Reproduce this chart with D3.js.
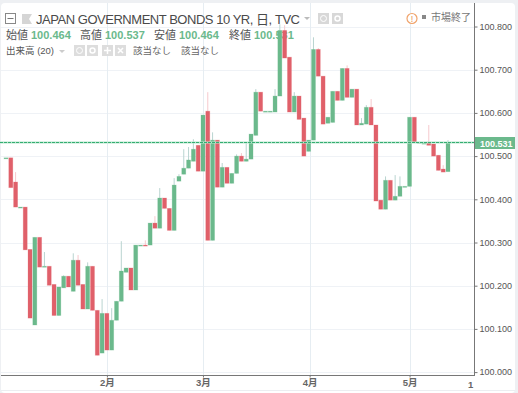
<!DOCTYPE html>
<html>

<head>
    <meta charset="utf-8" />
    <title>JGB 10Y</title>
    <script src="https://d3js.org/d3.v7.min.js"></script>
    <style>
        html,
        body {
            margin: 0;
            padding: 0;
            background-color: #eef0f3;
            overflow: hidden;
        }

        text {
            font-family: 'Liberation Sans', 'Noto Sans CJK JP', sans-serif;
        }
    </style>
</head>

<body>
    <div id="chart"></div>

    <script>
        // candles, one per trading day
        var opens = [100.496, 100.496, 100.440, 100.382, 100.382, 100.284, 100.109, 100.312, 100.245, 100.245,
            100.203, 100.131, 100.195, 100.222, 100.187, 100.259, 100.203, 100.146, 100.245, 100.143,
            100.044, 100.136, 100.051, 100.120, 100.164, 100.231, 100.241, 100.190, 100.294, 100.294,
            100.294, 100.345, 100.333, 100.403, 100.379, 100.328, 100.442, 100.458, 100.472, 100.488,
            100.525, 100.465, 100.604, 100.305, 100.537, 100.428, 100.474, 100.437, 100.460, 100.500,
            100.488, 100.493, 100.548, 100.648, 100.604, 100.604, 100.602, 100.639, 100.791, 100.729,
            100.602, 100.639, 100.588, 100.511, 100.537, 100.747, 100.685, 100.576, 100.578, 100.650,
            100.629, 100.703, 100.636, 100.655, 100.572, 100.574, 100.613, 100.572, 100.398, 100.377,
            100.444, 100.398, 100.407, 100.430, 100.430, 100.590, 100.532, 100.530, 100.532, 100.528,
            100.502, 100.470, 100.464];
        var closes = [100.496, 100.427, 100.382, 100.382, 100.283, 100.125, 100.312, 100.243, 100.245, 100.201,
            100.131, 100.197, 100.222, 100.197, 100.259, 100.201, 100.146, 100.245, 100.143, 100.039,
            100.136, 100.051, 100.120, 100.164, 100.234, 100.241, 100.190, 100.294, 100.294, 100.293,
            100.345, 100.333, 100.403, 100.379, 100.328, 100.433, 100.453, 100.472, 100.491, 100.516,
            100.465, 100.595, 100.305, 100.537, 100.428, 100.474, 100.437, 100.460, 100.500, 100.488,
            100.493, 100.551, 100.648, 100.604, 100.604, 100.604, 100.639, 100.791, 100.727, 100.602,
            100.639, 100.585, 100.500, 100.537, 100.747, 100.685, 100.574, 100.590, 100.650, 100.629,
            100.703, 100.636, 100.655, 100.572, 100.576, 100.613, 100.572, 100.396, 100.377, 100.444,
            100.398, 100.407, 100.430, 100.430, 100.590, 100.532, 100.532, 100.530, 100.525, 100.500,
            100.467, 100.463, 100.531];
        var highs = [100.496, 100.496, 100.463, 100.382, 100.382, 100.284, 100.312, 100.312, 100.278, 100.245,
            100.203, 100.197, 100.224, 100.222, 100.275, 100.271, 100.203, 100.254, 100.245, 100.143,
            100.169, 100.136, 100.148, 100.164, 100.303, 100.241, 100.241, 100.294, 100.294, 100.305,
            100.345, 100.361, 100.426, 100.403, 100.379, 100.449, 100.458, 100.516, 100.521, 100.539,
            100.525, 100.595, 100.648, 100.555, 100.537, 100.484, 100.474, 100.460, 100.504, 100.507,
            100.530, 100.551, 100.655, 100.648, 100.604, 100.604, 100.655, 100.805, 100.803, 100.729,
            100.648, 100.639, 100.588, 100.537, 100.775, 100.750, 100.685, 100.590, 100.650, 100.650,
            100.703, 100.710, 100.655, 100.655, 100.588, 100.618, 100.632, 100.572, 100.398, 100.453,
            100.444, 100.456, 100.453, 100.430, 100.590, 100.590, 100.532, 100.530, 100.572, 100.528,
            100.502, 100.479, 100.537];
        var lows = [100.496, 100.427, 100.382, 100.382, 100.283, 100.125, 100.109, 100.243, 100.245, 100.201,
            100.131, 100.131, 100.195, 100.197, 100.187, 100.201, 100.146, 100.146, 100.143, 100.039,
            100.044, 100.051, 100.051, 100.120, 100.164, 100.231, 100.190, 100.190, 100.294, 100.293,
            100.294, 100.333, 100.333, 100.379, 100.328, 100.328, 100.442, 100.458, 100.472, 100.488,
            100.465, 100.465, 100.305, 100.305, 100.428, 100.428, 100.437, 100.437, 100.460, 100.488,
            100.488, 100.493, 100.548, 100.604, 100.604, 100.604, 100.602, 100.639, 100.727, 100.602,
            100.602, 100.585, 100.500, 100.511, 100.537, 100.685, 100.574, 100.576, 100.578, 100.629,
            100.629, 100.636, 100.636, 100.572, 100.572, 100.574, 100.572, 100.396, 100.377, 100.377,
            100.398, 100.398, 100.407, 100.430, 100.430, 100.532, 100.532, 100.530, 100.525, 100.500,
            100.467, 100.463, 100.464];

        var monthTicks = [21, 41, 63.2, 84];
        var monthLabels = ["2月", "3月", "4月", "5月"];
        var extraTickLabel = "1";
        var priceTicks = [100.000, 100.100, 100.200, 100.300, 100.400, 100.500, 100.600, 100.700, 100.800];
        var lastPrice = 100.531;

        var ohlcLabels = ["始値", "高値", "安値", "終値"];
        var ohlcValues = ["100.464", "100.537", "100.464", "100.531"];

        var width = 518, height = 393;
        var up = "#6bb98c", down = "#e0606a", upWick = "#b9d4d0", downWick = "#f6c9cd";

        var svg = d3.select("#chart")
            .append("svg")
            .attr("width", width)
            .attr("height", height)
            .style("display", "block");

        // white panel
        svg.append("rect")
            .attr("x", 1).attr("y", 3)
            .attr("width", 514).attr("height", 390)
            .attr("rx", 4)
            .attr("fill", "#fff");

        // clips the price labels at the time axis
        svg.append("clipPath").attr("id", "axis-clip").append("rect")
            .attr("x", 470).attr("y", 0).attr("width", 48).attr("height", 375);

        var x = d3.scaleLinear().domain([0, 92]).range([6, 448]);
        var y = d3.scaleLinear().domain([100, 100.8]).range([372.1, 26.5]);

        // grid
        svg.append("g").selectAll("line").data(priceTicks).enter().append("line")
            .attr("x1", 1).attr("x2", 474)
            .attr("y1", function (d) { return Math.round(y(d)) + 0.5; })
            .attr("y2", function (d) { return Math.round(y(d)) + 0.5; })
            .attr("stroke", "#eff2f6");
        svg.append("g").selectAll("line").data(monthTicks).enter().append("line")
            .attr("x1", function (d) { return Math.round(x(d)) + 0.5; })
            .attr("x2", function (d) { return Math.round(x(d)) + 0.5; })
            .attr("y1", 3).attr("y2", 375)
            .attr("stroke", "#e6edf2");
        svg.append("line").attr("x1", 1).attr("x2", 515).attr("y1", 390.5).attr("y2", 390.5).attr("stroke", "#eceef1");

        // header goes under the candles, the tall bars cross the text
        var head = svg.append("g");
        head.append("rect").attr("x", 5.5).attr("y", 13.5).attr("width", 10).attr("height", 10).attr("fill", "#fff").attr("stroke", "#888");
        head.append("line").attr("x1", 7.5).attr("x2", 13.5).attr("y1", 18.5).attr("y2", 18.5).attr("stroke", "#777");
        head.append("path").attr("d", "M22,14h10l-3,5l3,5h-10z").attr("fill", "#d5d5d5");
        head.append("text").attr("x", 36).attr("y", 23.5).attr("font-size", 13).attr("fill", "#4a4a4a")
            .attr("textLength", 264).attr("lengthAdjust", "spacing")
            .text("JAPAN GOVERNMENT BONDS 10 YR, 日, TVC");
        head.append("path").attr("d", "M304,17h6l-3,3z").attr("fill", "#bbb");

        // eye + gear buttons
        head.append("rect").attr("x", 318).attr("y", 13).attr("width", 11).attr("height", 11).attr("fill", "#d8d8d8");
        head.append("circle").attr("cx", 323.5).attr("cy", 18.5).attr("r", 3).attr("fill", "none").attr("stroke", "#fff");
        head.append("rect").attr("x", 332).attr("y", 13).attr("width", 11).attr("height", 11).attr("fill", "#d8d8d8");
        head.append("circle").attr("cx", 337.5).attr("cy", 18.5).attr("r", 2.5).attr("fill", "none").attr("stroke", "#fff").attr("stroke-width", 1.5);

        // market closed
        head.append("circle").attr("cx", 412).attr("cy", 18.5).attr("r", 5).attr("fill", "#fff").attr("stroke", "#f0a36b").attr("stroke-width", 1.2);
        head.append("text").attr("x", 412).attr("y", 22).attr("text-anchor", "middle").attr("font-size", 9).attr("fill", "#e8904f").text("!");
        head.append("rect").attr("x", 422).attr("y", 15).attr("width", 4).attr("height", 4).attr("fill", "#888");
        head.append("text").attr("x", 431).attr("y", 21).attr("font-size", 10).attr("fill", "#777").text("市場終了");

        // OHLC row
        var ohlcX = [6, 80, 154, 229];
        ohlcLabels.forEach(function (l, i) {
            head.append("text").attr("x", ohlcX[i]).attr("y", 39).attr("font-size", 11).attr("fill", "#555").text(l);
            head.append("text").attr("x", ohlcX[i] + 25).attr("y", 39).attr("font-size", 11).attr("font-weight", "bold").attr("fill", "#6bb98c").text(ohlcValues[i]);
        });

        // volume row
        head.append("text").attr("x", 6).attr("y", 54).attr("font-size", 9.5).attr("fill", "#555").text("出来高 (20)");
        head.append("path").attr("d", "M59,50h6l-3,3z").attr("fill", "#ccc");
        var buttonX = [74, 87, 102, 115];
        buttonX.forEach(function (bx) {
            head.append("rect").attr("x", bx).attr("y", 45).attr("width", 11).attr("height", 11).attr("fill", "#ddd");
        });
        head.append("circle").attr("cx", 79.5).attr("cy", 50.5).attr("r", 3).attr("fill", "none").attr("stroke", "#fff");
        head.append("circle").attr("cx", 92.5).attr("cy", 50.5).attr("r", 2.5).attr("fill", "none").attr("stroke", "#fff").attr("stroke-width", 1.5);
        head.append("path").attr("d", "M107.5,47v7M104,50.5h7").attr("stroke", "#fff").attr("stroke-width", 1.5);
        head.append("path").attr("d", "M118,48l5,5M123,48l-5,5").attr("stroke", "#fff").attr("stroke-width", 1.5);
        head.append("text").attr("x", 133).attr("y", 54).attr("font-size", 9.5).attr("fill", "#666").text("該当なし");
        head.append("text").attr("x", 181).attr("y", 54).attr("font-size", 9.5).attr("fill", "#666").text("該当なし");

        // candles, the thin stroke gives the soft edge of the reference
        var idx = d3.range(opens.length);
        svg.append("g").selectAll("line").data(idx).enter().append("line")
            .attr("x1", function (i) { return x(i); })
            .attr("x2", function (i) { return x(i); })
            .attr("y1", function (i) { return y(highs[i]); })
            .attr("y2", function (i) { return y(lows[i]); })
            .attr("stroke", function (i) { return closes[i] >= opens[i] ? upWick : downWick; })
            .attr("stroke-width", 1);
        svg.append("g").selectAll("rect").data(idx).enter().append("rect")
            .attr("x", function (i) { return x(i) - 2; })
            .attr("width", 4)
            .attr("y", function (i) { return y(Math.max(opens[i], closes[i])); })
            .attr("height", function (i) { return Math.max(1, Math.abs(y(opens[i]) - y(closes[i]))); })
            .attr("fill", function (i) { return closes[i] >= opens[i] ? up : down; })
            .attr("stroke", function (i) { return closes[i] >= opens[i] ? up : down; })
            .attr("stroke-opacity", 0.3)
            .attr("stroke-width", 0.8);

        // last price line: pale band under green dashes, 1px alone comes out grey
        var lastY = Math.floor(y(lastPrice)) + 0.5;
        svg.append("line")
            .attr("x1", 0).attr("x2", 474)
            .attr("y1", lastY).attr("y2", lastY)
            .attr("stroke", "#b5e6cb")
            .attr("stroke-width", 2);
        svg.append("line")
            .attr("x1", 0).attr("x2", 474)
            .attr("y1", lastY).attr("y2", lastY)
            .attr("stroke", "#35ad72")
            .attr("stroke-dasharray", "3,1");

        // axes lines
        svg.append("line").attr("x1", 474.5).attr("x2", 474.5).attr("y1", 3).attr("y2", 375).attr("stroke", "#777");
        svg.append("line").attr("x1", 1).attr("x2", 475).attr("y1", 375.5).attr("y2", 375.5).attr("stroke", "#777");

        // price axis
        var yAxis = d3.axisRight(y).tickValues(priceTicks).tickFormat(d3.format(".3f")).tickSize(3).tickPadding(2);
        var yg = svg.append("g").attr("clip-path", "url(#axis-clip)").append("g").attr("transform", "translate(474.5,0)").call(yAxis);
        yg.select(".domain").remove();
        yg.selectAll("line").attr("stroke", "#777");
        yg.selectAll("text").attr("font-size", 9).attr("fill", "#555");

        // month axis
        var xAxis = d3.axisBottom(x).tickValues(monthTicks).tickFormat(function (d, i) { return monthLabels[i]; }).tickSize(2).tickPadding(2);
        var xg = svg.append("g").attr("transform", "translate(0,375.5)").call(xAxis);
        xg.select(".domain").remove();
        xg.selectAll("line").attr("stroke", "#777");
        xg.selectAll("text").attr("font-size", 9.5).attr("font-weight", "bold").attr("fill", "#666");
        svg.append("text").attr("x", 468).attr("y", 388).attr("font-size", 9.5).attr("font-weight", "bold").attr("fill", "#666").text(extraTickLabel);

        // last price tag
        svg.append("rect").attr("x", 475).attr("y", 137).attr("width", 40).attr("height", 12).attr("fill", "#6bb98c");
        svg.append("text").attr("x", 480).attr("y", 146.5).attr("font-size", 9).attr("font-weight", "bold").attr("fill", "#fff").text(lastPrice.toFixed(3));
    </script>

</body>

</html>
